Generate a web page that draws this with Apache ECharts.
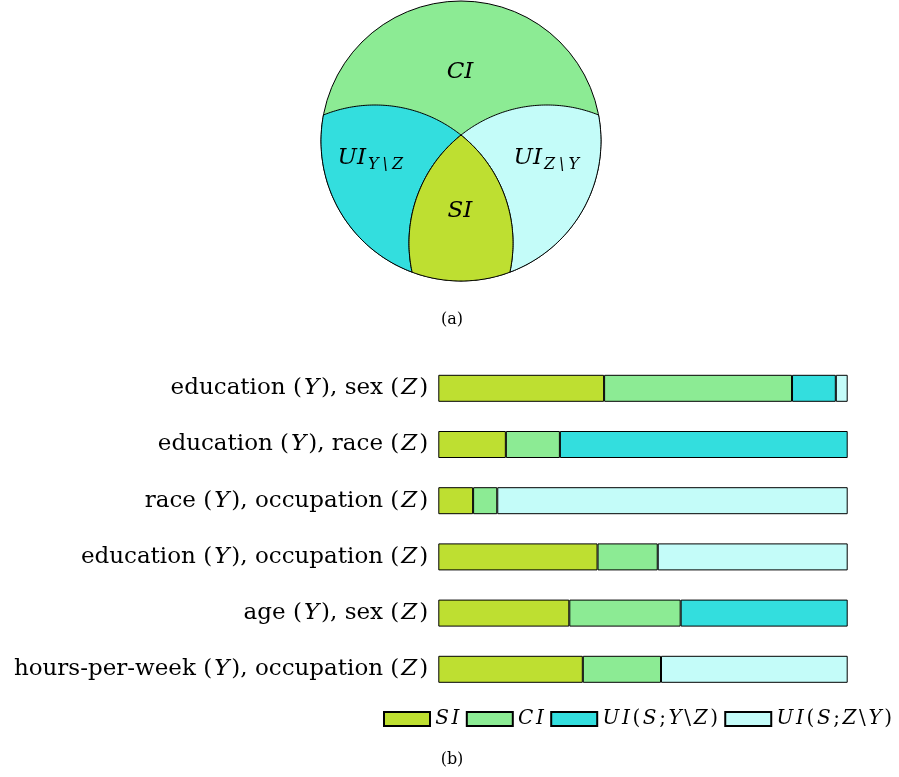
<!DOCTYPE html>
<html><head><meta charset="utf-8">
<script src="https://cdn.jsdelivr.net/npm/echarts@6/dist/echarts.min.js"></script>
<style>html,body{margin:0;padding:0;background:#fff}#c{width:899px;height:777px}</style>
</head><body><div id="c"></div>
<script>
const categories = ['education (Y), sex (Z)', 'education (Y), race (Z)', 'race (Y), occupation (Z)', 'education (Y), occupation (Z)', 'age (Y), sex (Z)', 'hours-per-week (Y), occupation (Z)'];
const seriesNames = ['SI', 'CI', 'UI(S;Y\\Z)', 'UI(S;Z\\Y)'];
const siValues  = [0.405, 0.165, 0.085, 0.389, 0.320, 0.353];
const ciValues  = [0.459, 0.132, 0.059, 0.147, 0.272, 0.191];
const uiYValues = [0.107, 0.703, 0, 0, 0.408, 0];
const uiZValues = [0.029, 0, 0.856, 0.464, 0, 0.456];
const colors = ['#bedf31', '#8ceb94', '#33dede', '#c4fcf9'];

const SERIF = '"DejaVu Serif", "Liberation Serif", serif';
const chart = echarts.init(document.getElementById('c'), null, {renderer: 'canvas'});

// ---- Venn-like diagram (a) geometry ----
const O = [461, 141], RO = 140;
const CY = [375, 243], CZ = [547, 243], RS = 138;
function inter(c1, r1, c2, r2) {
  const dx = c2[0] - c1[0], dy = c2[1] - c1[1], d = Math.hypot(dx, dy);
  const a = (r1 * r1 - r2 * r2 + d * d) / (2 * d), h = Math.sqrt(r1 * r1 - a * a);
  const xm = c1[0] + a * dx / d, ym = c1[1] + a * dy / d;
  return [[xm + h * dy / d, ym - h * dx / d], [xm - h * dy / d, ym + h * dx / d]];
}
function arc(c, r, p1, p2, cw) {
  let a1 = Math.atan2(p1[1] - c[1], p1[0] - c[0]);
  let a2 = Math.atan2(p2[1] - c[1], p2[0] - c[0]);
  if (cw) { while (a2 < a1) a2 += 2 * Math.PI; } else { while (a2 > a1) a2 -= 2 * Math.PI; }
  const n = 80, pts = [];
  for (let i = 0; i <= n; i++) { const t = a1 + (a2 - a1) * i / n; pts.push([c[0] + r * Math.cos(t), c[1] + r * Math.sin(t)]); }
  return pts;
}
const yz = inter(CY, RS, CZ, RS); const Ptop = yz[0][1] < yz[1][1] ? yz[0] : yz[1];
const yo = inter(CY, RS, O, RO); yo.sort((p, q) => p[0] - q[0]); const A = yo[0], Bp = yo[1];
const zo = inter(CZ, RS, O, RO); zo.sort((p, q) => p[0] - q[0]); const B = zo[0], Ap = zo[1];
const uiYPts = [].concat(arc(O, RO, A, B, false), arc(CZ, RS, B, Ptop, true), arc(CY, RS, Ptop, A, false));
const uiZPts = [].concat(arc(O, RO, Ap, Bp, true), arc(CY, RS, Bp, Ptop, false), arc(CZ, RS, Ptop, Ap, true));
const siPts = [].concat(arc(CY, RS, Ptop, Bp, true), arc(O, RO, Bp, B, true), arc(CZ, RS, B, Ptop, true));
const stroke = {stroke: '#000', lineWidth: 1};
function spaced(s) { return s.split('').map(ch => '{c|' + ch + '}').join(''); }
function txt(x, y, s, size, italic, align, pad) {
  const font = (italic ? 'italic ' : '') + size + 'px ' + SERIF;
  const style = {text: pad ? spaced(s) : s, font: font, fill: '#000', textAlign: align || 'center', textVerticalAlign: 'middle'};
  if (pad) style.rich = {c: {font: font, fill: '#000', padding: [0, pad, 0, pad]}};
  return {type: 'text', x: x, y: y, z: 10, style: style};
}
const graphics = [
  {type: 'circle', shape: {cx: O[0], cy: O[1], r: RO}, style: Object.assign({fill: colors[1]}, stroke)},
  {type: 'polygon', shape: {points: uiYPts}, style: Object.assign({fill: colors[2]}, stroke)},
  {type: 'polygon', shape: {points: uiZPts}, style: Object.assign({fill: colors[3]}, stroke)},
  {type: 'polygon', shape: {points: siPts}, style: Object.assign({fill: colors[0]}, stroke)},
  txt(460, 72, 'CI', 23, true),
  txt(460, 211, 'SI', 23, true),
  txt(366, 158, 'UI', 23, true, 'right'),
  txt(366, 165, 'Y\\Z', 16, true, 'left', 2),
  txt(542, 158, 'UI', 23, true, 'right'),
  txt(542, 165, 'Z\\Y', 16, true, 'left', 2),
  txt(452, 320, '(a)', 16, false),
  txt(452, 760, '(b)', 16, false)
];

const valueSets = [siValues, ciValues, uiYValues, uiZValues];
const series = seriesNames.map((name, i) => ({
  name: name, type: 'bar', stack: 'total', barWidth: 27,
  data: valueSets[i].map(v => v === 0 ? '-' : v),
  itemStyle: {color: colors[i], borderColor: '#000', borderWidth: 1},
  emphasis: {disabled: true}
}));

chart.setOption({
  animation: false,
  backgroundColor: '#fff',
  grid: {left: 438.3, top: 360.2, width: 409.4, height: 337.2, containLabel: false, outerBoundsMode: 'none'},
  xAxis: {type: 'value', min: 0, max: 1, show: false},
  yAxis: {
    type: 'category', data: categories, inverse: true,
    axisLine: {show: false}, axisTick: {show: false}, splitLine: {show: false},
    axisLabel: {
      margin: 10, color: '#000', fontFamily: SERIF, fontSize: 23,
      formatter: v => v.replace(/\((Y|Z)\)/g, '({i|$1})'),
      rich: {i: {fontStyle: 'italic', fontFamily: SERIF, fontSize: 23, color: '#000', padding: [0, 2, 0, 2]}}
    }
  },
  legend: {
    data: seriesNames, left: 383, top: 709, padding: 0, itemWidth: 46, itemHeight: 14, itemGap: 5,
    icon: 'rect', selectedMode: false,
    textStyle: {fontFamily: SERIF, fontSize: 20, color: '#000', padding: [0, 0, 0, -1],
      rich: {
        i: {fontStyle: 'italic', fontFamily: SERIF, fontSize: 20, color: '#000', lineHeight: 21, padding: [0, 1.3, 0, 1.3]},
        n: {fontFamily: SERIF, fontSize: 20, color: '#000', lineHeight: 21, padding: [0, 1.3, 0, 1.3]}
      }},
    formatter: n => n.split('').map(ch => (/[A-Z]/.test(ch) ? '{i|' : '{n|') + ch + '}').join('')
  },
  graphic: graphics,
  series: series
});
</script></body></html>
